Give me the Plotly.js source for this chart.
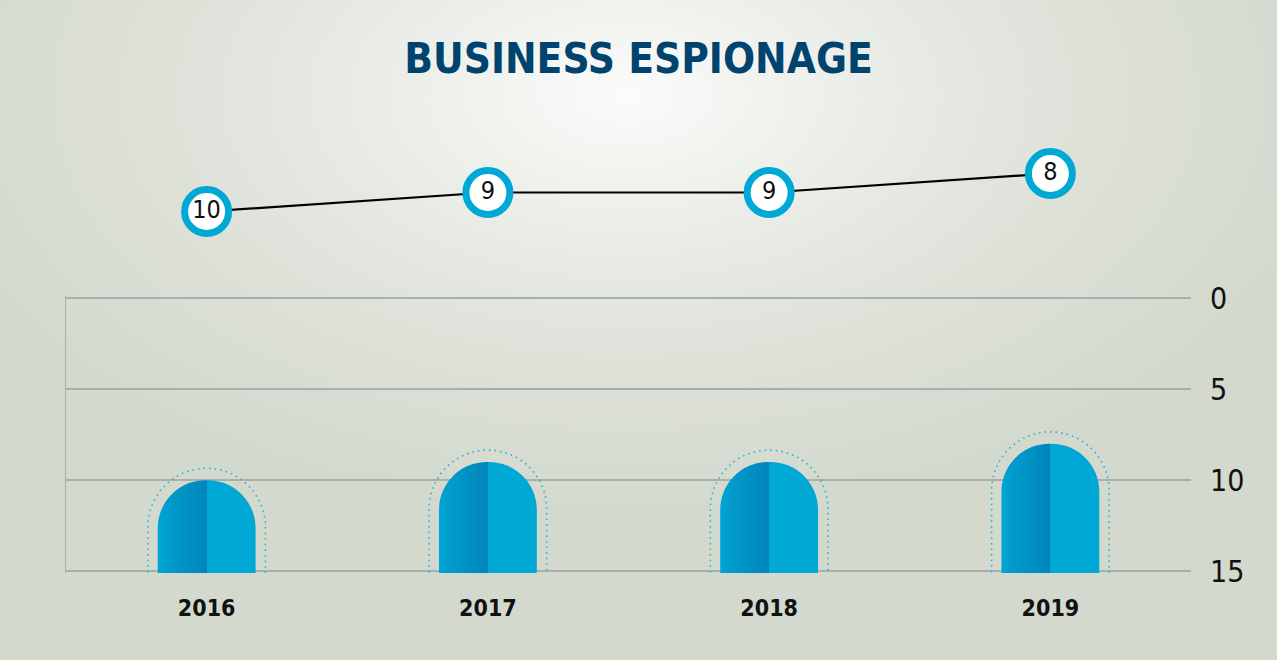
<!DOCTYPE html>
<html lang="en">
<head>
    <meta charset="UTF-8">
    <script src="https://cdn.plot.ly/plotly-3.0.1.min.js"></script>
    <style>
        html, body {
            margin: 0;
            padding: 0;
            width: 1277px;
            height: 660px;
            overflow: hidden;
        }
        body {
            background: radial-gradient(ellipse 720px 420px at 625px 95px, #fbfcfa 0%, #eceee9 30%, #dde1d8 65%, #d4d9ce 100%);
        }
        #plot {
            width: 1277px;
            height: 660px;
        }
    </style>
</head>
<body>
<div id="plot"></div>
<script>
    // values
    const years = ['2016', '2017', '2018', '2019'];
    const ranks = [10, 9, 9, 8];
    const axisTicks = [0, 5, 10, 15];

    const narrow = '"Liberation Sans Narrow", "DejaVu Sans Condensed", "Arial Narrow", sans-serif';
    // bars start below the visible range so only their rounded top shows
    const baseVal = 20;

    // dotted halo behind each bar
    const halo = {
        x: years,
        y: ranks.map(v => (v - 0.65) - baseVal),
        base: baseVal,
        type: 'bar',
        width: 0.418,
        marker: {
            color: 'rgba(0,0,0,0)',
            line: {color: '#2db0da', width: 1.6},
            cornerradius: '50%'
        },
        hoverinfo: 'skip',
        showlegend: false
    };

    // the arches themselves
    const bars = {
        x: years,
        y: ranks.map(v => v - baseVal),
        base: baseVal,
        type: 'bar',
        width: 0.348,
        marker: {
            color: '#00a8d5',
            line: {width: 0},
            cornerradius: '50%'
        },
        hoverinfo: 'skip',
        showlegend: false
    };

    // ranking line on top
    const line = {
        x: years,
        y: ranks,
        yaxis: 'y2',
        type: 'scatter',
        mode: 'lines+markers+text',
        text: ranks.map(String),
        textposition: 'middle center',
        textfont: {family: narrow, size: 25, color: '#111111'},
        line: {color: '#000000', width: 2.2},
        marker: {
            size: 44,
            color: '#ffffff',
            line: {color: '#00a8d5', width: 7}
        },
        cliponaxis: false,
        hoverinfo: 'skip',
        showlegend: false
    };

    // dummy trace so the left axis line gets drawn
    const leftAxis = {
        x: [years[0]],
        y: [null],
        yaxis: 'y3',
        type: 'scatter',
        mode: 'markers',
        hoverinfo: 'skip',
        showlegend: false
    };

    const layout = {
        width: 1277,
        height: 660,
        paper_bgcolor: 'rgba(0,0,0,0)',
        plot_bgcolor: 'rgba(0,0,0,0)',
        margin: {l: 66, r: 86, t: 100, b: 87, pad: 0},
        barmode: 'overlay',
        title: {
            text: '<b>BUSINESS ESPIONAGE</b>',
            font: {family: narrow, size: 42, color: '#00436f'},
            x: 0.5,
            xanchor: 'center',
            y: 0.912,
            yanchor: 'middle'
        },
        xaxis: {
            type: 'category',
            range: [-0.5, 3.5],
            showgrid: false,
            zeroline: false,
            showline: false,
            ticks: '',
            ticklabelstandoff: 19,
            tickfont: {family: narrow, size: 23, color: '#111111', weight: 'bold'}
        },
        yaxis: {
            domain: [0, 0.5852],
            range: [15.1, -0.1],
            side: 'right',
            tickvals: axisTicks,
            ticktext: axisTicks.map(String),
            showgrid: true,
            gridcolor: '#a9afab',
            gridwidth: 1.5,
            zeroline: false,
            showline: false,
            ticks: '',
            ticklabelstandoff: 18,
            tickfont: {family: narrow, size: 30, color: '#111111'}
        },
        yaxis3: {
            overlaying: 'y',
            range: [15.1, -0.1],
            side: 'left',
            showline: true,
            linecolor: '#a9afab',
            linewidth: 1.5,
            showgrid: false,
            zeroline: false,
            showticklabels: false,
            ticks: ''
        },
        yaxis2: {
            domain: [0.704, 0.9154],
            range: [11.5, 6.24],
            visible: false,
            showgrid: false,
            zeroline: false
        }
    };

    const config = {displayModeBar: false, staticPlot: true};

    Plotly.newPlot('plot', [halo, bars, leftAxis, line], layout, config).then(function(gd) {
        // two-tone fill and dotted halo are not plain bar options, patch the svg
        const svg = gd.querySelector('.main-svg');
        const ns = 'http://www.w3.org/2000/svg';
        const defs = svg.querySelector('defs');
        const grad = document.createElementNS(ns, 'linearGradient');
        grad.setAttribute('id', 'archFill');
        grad.setAttribute('x1', '0');
        grad.setAttribute('x2', '1');
        grad.setAttribute('y1', '0');
        grad.setAttribute('y2', '0');
        [['0', '#00a6d6'], ['0.1', '#009ccd'], ['0.5', '#0085b9'], ['0.5', '#00a8d5'], ['1', '#00a8d5']].forEach(function(s) {
            const stop = document.createElementNS(ns, 'stop');
            stop.setAttribute('offset', s[0]);
            stop.setAttribute('stop-color', s[1]);
            grad.appendChild(stop);
        });
        defs.appendChild(grad);

        const traces = gd.querySelectorAll('.barlayer .trace');
        traces[0].querySelectorAll('path').forEach(function(p) {
            p.style.strokeDasharray = '1.6 4';
        });
        traces[1].querySelectorAll('path').forEach(function(p) {
            p.style.fill = 'url(#archFill)';
        });
    });
</script>
</body>
</html>
